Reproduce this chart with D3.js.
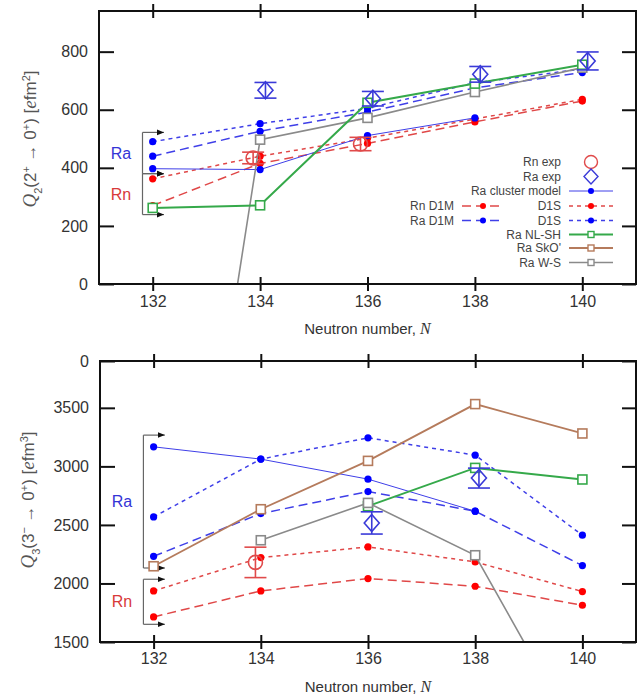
<!DOCTYPE html>
<html>
<head>
<meta charset="utf-8">
<script src="https://cdn.jsdelivr.net/npm/d3@7"></script>
<style>
  body { margin: 0; background: #fff; }
  svg { display: block; }
  text { font-family: "Liberation Sans", Arial, sans-serif; }
</style>
</head>
<body>
<svg id="chart" width="643" height="698"></svg>
<script>
// Neutron numbers of the isotopes
const neutronN = [132, 134, 136, 138, 140];
const xTickValues = [132, 134, 136, 138, 140];

// ---- Q2 (2+ -> 0+) [e fm^2] ----
const q2TickValues = [0, 200, 400, 600, 800];
const q2RnD1M = [270, 415, 484, 558, 630];
const q2RnD1S = [362, 440, 502, 568, 636];
const q2RaD1M = [440, 526, 592, 675, 728];
const q2RaD1S = [490, 552, 605, 693, 740];
const q2RaCluster = [397, 394, 511, 572, null];
const q2RaNLSH = [262, 271, 624, 690, 755];
const q2RaWS = [-1870, 497, 572, 661, 745];
const q2RnExpN = [133.87, 135.87];
const q2RnExp = [434, 482];
const q2RnExpErr = [20, 23];
const q2RaExpN = [134.1, 136.1, 138.1, 140.1];
const q2RaExp = [667, 638, 722, 768];
const q2RaExpErr = [27, 25, 27, 31];

// ---- Q3 (3- -> 0+) [e fm^3] ----
const q3TickValues = [1500, 2000, 2500, 3000, 3500, 3900];
const q3TickLabels = ["1500", "2000", "2500", "3000", "3500", "0"];
const q3RnD1M = [1714, 1936, 2042, 1976, 1814];
const q3RnD1S = [1936, 2221, 2312, 2184, 1931];
const q3RaD1M = [2232, 2597, 2785, 2617, 2153];
const q3RaD1S = [2568, 3062, 3244, 3096, 2412];
const q3RaCluster = [3167, 3062, 2891, 2617, null];
const q3RaNLSH = [null, null, 2660, 2987, 2888];
const q3RaSkO = [2147, 2634, 3047, 3532, 3281];
const q3RaWS = [null, 2369, 2688, 2241, 612];
const q3RnExpN = [133.9];
const q3RnExp = [2180];
const q3RnExpErr = [130];
const q3RaExpN = [136.07, 138.07];
const q3RaExp = [2517, 2900];
const q3RaExpErr = [95, 85];

// Bracket annotations grouping the Ra and Rn calculations (value levels)
const q2BracketRa = [522, 380];
const q2BracketRn = [380, 239];
const q3BracketRa = [3267, 2132];
const q3BracketRn = [2036, 1651];

// Colours and line styles
const C = {
  blueLine: "#3f3fe8", blueDot: "#0000ff",
  redLine: "#e04848", redDot: "#ff0000",
  green: "#35a94a", brown: "#b57b5c", gray: "#8a8a8a",
  raExp: "#3a3ad8", rnExp: "#e04a4a",
  text: "#333", frame: "#111"
};
const LONG = "9,5", SHORT = "4,4";

const svg = d3.select("#chart");

svg.append("defs").append("marker")
  .attr("id", "arrowHead").attr("viewBox", "0 0 10 10")
  .attr("refX", 10).attr("refY", 5)
  .attr("markerWidth", 7).attr("markerHeight", 7)
  .attr("markerUnits", "userSpaceOnUse")
  .attr("orient", "auto")
  .append("path").attr("d", "M0,1 L10,5 L0,9 Z").attr("fill", "#111");

function drawPanel(cfg) {
  const { x, y, id } = cfg;
  const [x0, x1] = x.range();
  const [yb, yt] = y.range();
  const g = svg.append("g");

  g.append("clipPath").attr("id", id)
    .append("rect").attr("x", x0).attr("y", yt).attr("width", x1 - x0).attr("height", yb - yt);

  // bracket annotation (drawn beneath the data)
  const bx0 = x(131.81), bx1 = x(132.21);
  const br = g.append("g");
  cfg.brackets.forEach(b => {
    br.append("line").attr("x1", bx0).attr("x2", bx0)
      .attr("y1", y(b.range[0])).attr("y2", y(b.range[1]))
      .attr("stroke", "#666").attr("stroke-width", 1.2);
    b.range.forEach(v => {
      br.append("line").attr("x1", bx0).attr("x2", bx1)
        .attr("y1", y(v)).attr("y2", y(v))
        .attr("stroke", "#666").attr("stroke-width", 1.2)
        .attr("marker-end", "url(#arrowHead)");
    });
    br.append("text").attr("x", cfg.bracketLabelX).attr("y", y((b.range[0] + b.range[1]) / 2))
      .attr("dy", "0.35em").attr("text-anchor", "middle")
      .attr("font-size", 16).attr("fill", b.color).text(b.label);
  });

  // model series
  const plot = g.append("g").attr("clip-path", `url(#${id})`);
  const line = d3.line()
    .defined(d => d.v !== null)
    .x(d => x(d.n)).y(d => y(d.v));
  cfg.series.forEach(s => {
    const pts = neutronN.map((n, i) => ({ n, v: s.values[i] }));
    plot.append("path").datum(pts)
      .attr("d", line).attr("fill", "none")
      .attr("stroke", s.color).attr("stroke-width", s.width)
      .attr("stroke-dasharray", s.dash || null);
    const inside = pts.filter(d => d.v !== null && d.v >= y.domain()[0]);
    if (s.marker === "dot") {
      plot.selectAll(null).data(inside).join("circle")
        .attr("cx", d => x(d.n)).attr("cy", d => y(d.v)).attr("r", 3.6)
        .attr("fill", s.dotColor);
    } else if (s.marker === "square") {
      plot.selectAll(null).data(inside).join("rect")
        .attr("x", d => x(d.n) - 4.5).attr("y", d => y(d.v) - 4.5)
        .attr("width", 9).attr("height", 9)
        .attr("fill", "#fff").attr("stroke", s.color).attr("stroke-width", 1.6);
    }
  });

  // experimental values with error bars
  cfg.exp.forEach(e => {
    const eg = g.append("g").attr("stroke", e.color).attr("fill", "none").attr("stroke-width", 1.6);
    e.n.forEach((n, i) => {
      const cx = x(n), v = e.values[i], err = e.err[i];
      eg.append("line").attr("x1", cx).attr("x2", cx).attr("y1", y(v - err)).attr("y2", y(v + err));
      [v - err, v + err].forEach(w => eg.append("line")
        .attr("x1", cx - 11).attr("x2", cx + 11).attr("y1", y(w)).attr("y2", y(w)));
      if (e.shape === "circle") {
        eg.append("circle").attr("cx", cx).attr("cy", y(v)).attr("r", 7);
      } else {
        const cy = y(v);
        eg.append("path").attr("d", `M${cx},${cy - 8.5} L${cx + 7.5},${cy} L${cx},${cy + 8.5} L${cx - 7.5},${cy} Z`);
      }
    });
  });

  // axes: x ticks cross the frame, y ticks point inward
  const xb = g.append("g").attr("transform", `translate(0,${yb})`)
    .call(d3.axisBottom(x).tickValues(xTickValues).tickSize(7).tickPadding(cfg.xPad).tickFormat(d3.format("d")));
  const xt = g.append("g").attr("transform", `translate(0,${yt})`)
    .call(d3.axisTop(x).tickValues(xTickValues).tickSize(7).tickFormat(""));
  [xb, xt].forEach(a => a.selectAll(".tick line").attr("y1", a === xb ? -7 : 7));

  const yl = g.append("g").attr("transform", `translate(${x0},0)`)
    .call(d3.axisLeft(y).tickValues(cfg.yTicks).tickSize(-15).tickPadding(11)
      .tickFormat((d, i) => cfg.yLabels[i]));
  const yr = g.append("g").attr("transform", `translate(${x1},0)`)
    .call(d3.axisRight(y).tickValues(cfg.yTicks).tickSize(-14).tickFormat(""));

  [xb, xt, yl, yr].forEach(a => {
    a.select(".domain").remove();
    a.selectAll(".tick line").attr("stroke", C.frame).attr("stroke-width", 2);
    a.selectAll("text").attr("font-size", 16).attr("fill", C.text)
      .attr("font-family", "Liberation Sans, Arial, sans-serif");
  });

  g.append("rect").attr("x", x0).attr("y", yt).attr("width", x1 - x0).attr("height", yb - yt)
    .attr("fill", "none").attr("stroke", C.frame).attr("stroke-width", 2);

  // x axis title
  const xt2 = g.append("text").attr("x", (x0 + x1) / 2).attr("y", cfg.xTitleY)
    .attr("text-anchor", "middle").attr("font-size", 15).attr("fill", C.text);
  xt2.append("tspan").text("Neutron number, ");
  xt2.append("tspan").attr("font-family", "Liberation Serif, serif").attr("font-style", "italic")
    .attr("font-size", 16).text("N");

  // y axis title
  const yt2 = g.append("text")
    .attr("transform", `translate(${cfg.yTitleX},${cfg.yTitleY}) rotate(-90)`)
    .attr("text-anchor", "middle").attr("font-size", 17).attr("fill", "#555");
  cfg.yTitle(yt2);
  return g;
}

function italic(t, s) {
  return t.append("tspan").attr("font-family", "Liberation Serif, serif").attr("font-style", "italic")
    .attr("font-size", 19).text(s);
}
function script(t, s, shift) {
  t.append("tspan").attr("font-size", 11).attr("baseline-shift", shift).text(s);
}

drawPanel({
  id: "clipQ2",
  x: d3.scaleLinear().domain([131, 141]).range([99, 636]),
  y: d3.scaleLinear().domain([0, 940]).range([284, 11]),
  yTicks: q2TickValues,
  yLabels: q2TickValues.map(String),
  xPad: 5, xTitleY: 334,
  yTitleX: 36, yTitleY: 139,
  bracketLabelX: 121,
  brackets: [
    { range: q2BracketRa, label: "Ra", color: "#3434d6" },
    { range: q2BracketRn, label: "Rn", color: "#d83a3a" }
  ],
  series: [
    { values: q2RnD1M, color: C.redLine, dash: LONG, width: 1.5, marker: "dot", dotColor: C.redDot },
    { values: q2RnD1S, color: C.redLine, dash: SHORT, width: 1.5, marker: "dot", dotColor: C.redDot },
    { values: q2RaD1M, color: C.blueLine, dash: LONG, width: 1.5, marker: "dot", dotColor: C.blueDot },
    { values: q2RaD1S, color: C.blueLine, dash: SHORT, width: 1.5, marker: "dot", dotColor: C.blueDot },
    { values: q2RaCluster, color: C.blueLine, width: 1, marker: "dot", dotColor: C.blueDot },
    { values: q2RaWS, color: C.gray, width: 1.6, marker: "square" },
    { values: q2RaNLSH, color: C.green, width: 2, marker: "square" }
  ],
  exp: [
    { n: q2RnExpN, values: q2RnExp, err: q2RnExpErr, color: C.rnExp, shape: "circle" },
    { n: q2RaExpN, values: q2RaExp, err: q2RaExpErr, color: C.raExp, shape: "diamond" }
  ],
  yTitle: t => {
    italic(t, "Q");
    script(t, "2", "sub");
    t.append("tspan").text("(2");
    script(t, "+", "super");
    t.append("tspan").text(" \u2192 0");
    script(t, "+", "super");
    t.append("tspan").text(") [");
    italic(t, "e");
    t.append("tspan").text("fm");
    script(t, "2", "super");
    t.append("tspan").text("]");
  }
});

drawPanel({
  id: "clipQ3",
  x: d3.scaleLinear().domain([131, 141]).range([100, 636]),
  y: d3.scaleLinear().domain([1500, 3900]).range([642, 361]),
  yTicks: q3TickValues,
  yLabels: q3TickLabels,
  xPad: 4, xTitleY: 692,
  yTitleX: 34, yTitleY: 500,
  bracketLabelX: 122,
  brackets: [
    { range: q3BracketRa, label: "Ra", color: "#3434d6" },
    { range: q3BracketRn, label: "Rn", color: "#d83a3a" }
  ],
  series: [
    { values: q3RnD1M, color: C.redLine, dash: LONG, width: 1.5, marker: "dot", dotColor: C.redDot },
    { values: q3RnD1S, color: C.redLine, dash: SHORT, width: 1.5, marker: "dot", dotColor: C.redDot },
    { values: q3RaD1M, color: C.blueLine, dash: LONG, width: 1.5, marker: "dot", dotColor: C.blueDot },
    { values: q3RaD1S, color: C.blueLine, dash: SHORT, width: 1.5, marker: "dot", dotColor: C.blueDot },
    { values: q3RaCluster, color: C.blueLine, width: 1, marker: "dot", dotColor: C.blueDot },
    { values: q3RaSkO, color: C.brown, width: 1.8, marker: "square" },
    { values: q3RaNLSH, color: C.green, width: 2, marker: "square" },
    { values: q3RaWS, color: C.gray, width: 1.6, marker: "square" }
  ],
  exp: [
    { n: q3RnExpN, values: q3RnExp, err: q3RnExpErr, color: C.rnExp, shape: "circle" },
    { n: q3RaExpN, values: q3RaExp, err: q3RaExpErr, color: C.raExp, shape: "diamond" }
  ],
  yTitle: t => {
    italic(t, "Q");
    script(t, "3", "sub");
    t.append("tspan").text("(3");
    script(t, "\u2212", "super");
    t.append("tspan").text(" \u2192 0");
    script(t, "+", "super");
    t.append("tspan").text(") [");
    italic(t, "e");
    t.append("tspan").text("fm");
    script(t, "3", "super");
    t.append("tspan").text("]");
  }
});

// Legend (upper panel)
const legendRows = [
  { label: "Rn exp", col: 1, kind: "circle", color: C.rnExp },
  { label: "Ra exp", col: 1, kind: "diamond", color: C.raExp },
  { label: "Ra cluster model", col: 1, kind: "line", color: C.blueLine, dot: C.blueDot, width: 1 },
  { label: "Rn D1M", col: 0, kind: "line", color: C.redLine, dash: LONG, dot: C.redDot, width: 1.5, row: 3 },
  { label: "D1S", col: 1, kind: "line", color: C.redLine, dash: SHORT, dot: C.redDot, width: 1.5 },
  { label: "Ra D1M", col: 0, kind: "line", color: C.blueLine, dash: LONG, dot: C.blueDot, width: 1.5, row: 4 },
  { label: "D1S", col: 1, kind: "line", color: C.blueLine, dash: SHORT, dot: C.blueDot, width: 1.5 },
  { label: "Ra NL-SH", col: 1, kind: "line", color: C.green, square: true, width: 2 },
  { label: "Ra SkO'", col: 1, kind: "line", color: C.brown, square: true, width: 1.8 },
  { label: "Ra W-S", col: 1, kind: "line", color: C.gray, square: true, width: 1.6 }
];
const legendRowY = [162, 176.5, 191, 206, 220.5, 234.5, 248, 262.5];
const legendCols = [{ textX: 454, x0: 462, x1: 504 }, { textX: 561, x0: 569, x1: 613 }];
const lg = svg.append("g");
let r = 0;
legendRows.forEach(d => {
  let rowIdx;
  if (d.row !== undefined) rowIdx = d.row; else { rowIdx = r; r++; }
  const yy = legendRowY[rowIdx];
  const col = legendCols[d.col];
  const mx = (col.x0 + col.x1) / 2;
  lg.append("text").attr("x", col.textX).attr("y", yy).attr("dy", "0.35em")
    .attr("text-anchor", "end").attr("font-size", 12).attr("fill", "#444").text(d.label);
  if (d.kind === "circle") {
    lg.append("circle").attr("cx", mx).attr("cy", yy).attr("r", 6.5)
      .attr("fill", "none").attr("stroke", d.color).attr("stroke-width", 1.4);
  } else if (d.kind === "diamond") {
    lg.append("path").attr("d", `M${mx},${yy - 7.5} L${mx + 7},${yy} L${mx},${yy + 7.5} L${mx - 7},${yy} Z`)
      .attr("fill", "none").attr("stroke", d.color).attr("stroke-width", 1.4);
  } else {
    lg.append("line").attr("x1", col.x0).attr("x2", col.x1).attr("y1", yy).attr("y2", yy)
      .attr("stroke", d.color).attr("stroke-width", d.width).attr("stroke-dasharray", d.dash || null);
    if (d.dot) lg.append("circle").attr("cx", mx).attr("cy", yy).attr("r", 3).attr("fill", d.dot);
    if (d.square) lg.append("rect").attr("x", mx - 3).attr("y", yy - 3).attr("width", 6).attr("height", 6)
      .attr("fill", "#fff").attr("stroke", d.color).attr("stroke-width", 1.4);
  }
});
</script>
</body>
</html>
